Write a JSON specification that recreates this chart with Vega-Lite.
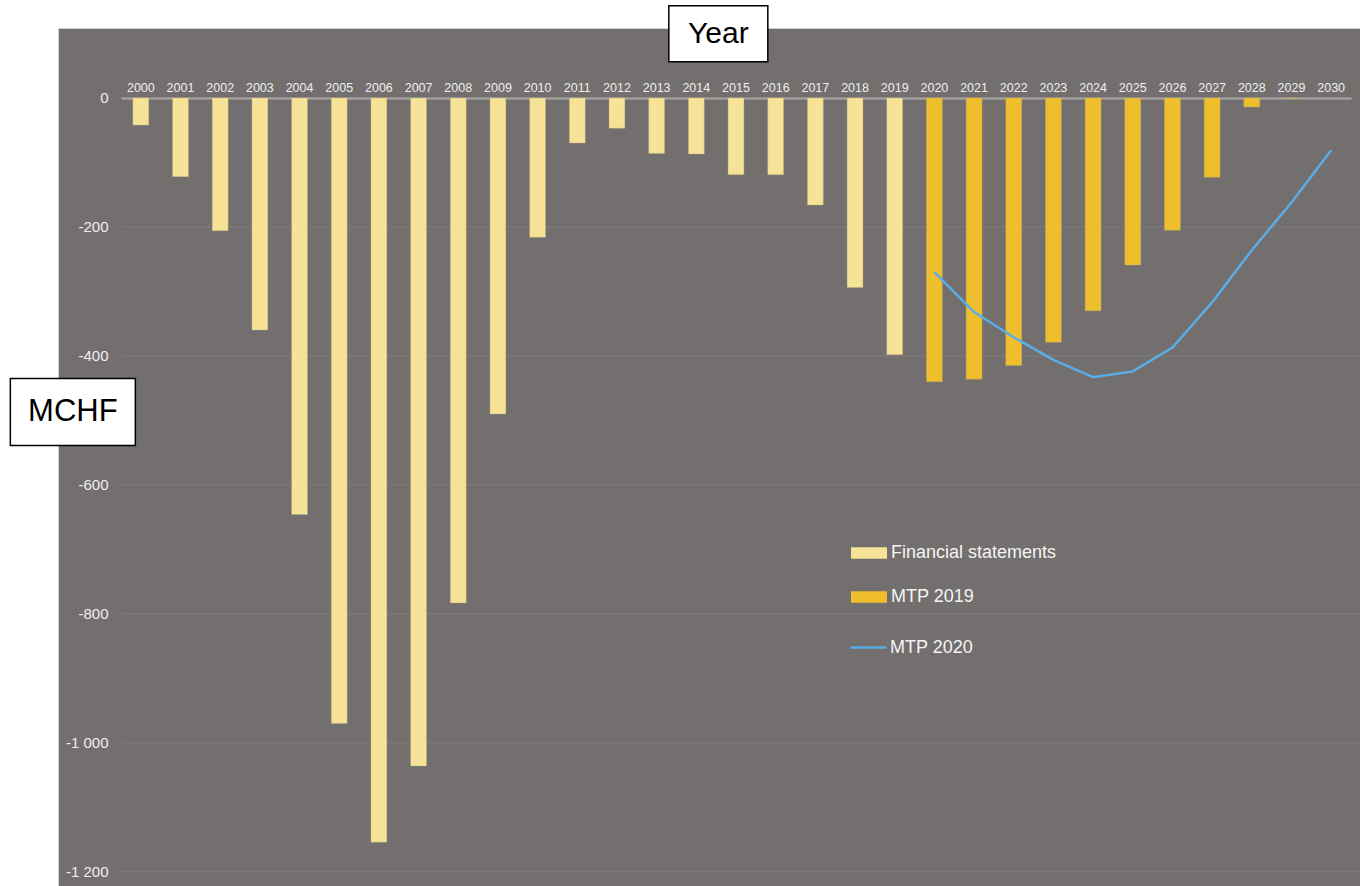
{
  "$schema": "https://vega.github.io/schema/vega-lite/v6.json",
  "width": 1302,
  "height": 858,
  "autosize": {"type": "none"},
  "padding": {"left": 58, "top": 28, "right": 0, "bottom": 0},
  "background": "white",
  "config": {
    "view": {"fill": "#736f6e", "stroke": "#cfcfcf", "strokeWidth": 1},
    "font": "Liberation Sans"
  },
  "datasets": {
    "bars": [
      {"year": "2000", "value": -42, "series": "Financial statements"},
      {"year": "2001", "value": -122, "series": "Financial statements"},
      {"year": "2002", "value": -206, "series": "Financial statements"},
      {"year": "2003", "value": -360, "series": "Financial statements"},
      {"year": "2004", "value": -646, "series": "Financial statements"},
      {"year": "2005", "value": -970, "series": "Financial statements"},
      {"year": "2006", "value": -1154, "series": "Financial statements"},
      {"year": "2007", "value": -1036, "series": "Financial statements"},
      {"year": "2008", "value": -783, "series": "Financial statements"},
      {"year": "2009", "value": -490, "series": "Financial statements"},
      {"year": "2010", "value": -216, "series": "Financial statements"},
      {"year": "2011", "value": -70, "series": "Financial statements"},
      {"year": "2012", "value": -47, "series": "Financial statements"},
      {"year": "2013", "value": -86, "series": "Financial statements"},
      {"year": "2014", "value": -87, "series": "Financial statements"},
      {"year": "2015", "value": -119, "series": "Financial statements"},
      {"year": "2016", "value": -119, "series": "Financial statements"},
      {"year": "2017", "value": -166, "series": "Financial statements"},
      {"year": "2018", "value": -294, "series": "Financial statements"},
      {"year": "2019", "value": -398, "series": "Financial statements"},
      {"year": "2020", "value": -440, "series": "MTP 2019"},
      {"year": "2021", "value": -436, "series": "MTP 2019"},
      {"year": "2022", "value": -415, "series": "MTP 2019"},
      {"year": "2023", "value": -379, "series": "MTP 2019"},
      {"year": "2024", "value": -330, "series": "MTP 2019"},
      {"year": "2025", "value": -259, "series": "MTP 2019"},
      {"year": "2026", "value": -205, "series": "MTP 2019"},
      {"year": "2027", "value": -123, "series": "MTP 2019"},
      {"year": "2028", "value": -14, "series": "MTP 2019"},
      {"year": "2029", "value": -1, "series": "MTP 2019"}
    ],
    "line": [
      {"year": "2020", "value": -270, "series": "MTP 2020"},
      {"year": "2021", "value": -332, "series": "MTP 2020"},
      {"year": "2022", "value": -371, "series": "MTP 2020"},
      {"year": "2023", "value": -406, "series": "MTP 2020"},
      {"year": "2024", "value": -433, "series": "MTP 2020"},
      {"year": "2025", "value": -424, "series": "MTP 2020"},
      {"year": "2026", "value": -387, "series": "MTP 2020"},
      {"year": "2027", "value": -317, "series": "MTP 2020"},
      {"year": "2028", "value": -236, "series": "MTP 2020"},
      {"year": "2029", "value": -162, "series": "MTP 2020"},
      {"year": "2030", "value": -81, "series": "MTP 2020"}
    ],
    "grid": [
      {"v": -1200}, {"v": -1000}, {"v": -800}, {"v": -600}, {"v": -400}, {"v": -200}
    ],
    "one": [{"k": 1}]
  },
  "layer": [
    {
      "data": {"name": "grid"},
      "mark": {"type": "rule", "color": "#837e7d", "strokeWidth": 1, "xOffset": -19, "x2Offset": 29},
      "encoding": {
        "y": {"field": "v", "type": "quantitative"},
        "x": {"datum": "2000", "type": "ordinal"},
        "x2": {"datum": "2030"}
      }
    },
    {
      "data": {"name": "bars"},
      "mark": {"type": "bar", "stroke": "#b9aa7a", "strokeWidth": 0.5, "strokeOpacity": 0.8},
      "encoding": {
        "x": {
          "field": "year",
          "type": "ordinal",
          "scale": {
            "domain": ["2000","2001","2002","2003","2004","2005","2006","2007","2008","2009","2010","2011","2012","2013","2014","2015","2016","2017","2018","2019","2020","2021","2022","2023","2024","2025","2026","2027","2028","2029","2030"],
            "range": [63, 1293],
            "paddingInner": 0.6,
            "paddingOuter": 0.3
          },
          "axis": {
            "orient": "top",
            "offset": -70,
            "title": null,
            "labelAngle": 0,
            "labelAlign": "center",
            "labelBaseline": "alphabetic",
            "labelFontSize": 12.5,
            "labelColor": "#eeeeee",
            "labelPadding": 7,
            "ticks": false,
            "grid": false,
            "domainColor": "#aba7a5",
            "domainWidth": 2
          }
        },
        "y": {
          "field": "value",
          "type": "quantitative",
          "scale": {"domain": [-1222, 108.5], "nice": false, "zero": false},
          "axis": {
            "orient": "left",
            "offset": -58,
            "title": null,
            "values": [-1200, -1000, -800, -600, -400, -200, 0],
            "labelExpr": "datum.value <= -1000 ? '-' + floor(-datum.value/1000) + ' ' + format(-datum.value % 1000, '03d') : '' + datum.value",
            "labelFontSize": 15,
            "labelColor": "#eeeeee",
            "labelPadding": 8,
            "ticks": false,
            "domain": false,
            "grid": false
          }
        },
        "y2": {"datum": 0},
        "color": {
          "field": "series",
          "type": "nominal",
          "scale": {"domain": ["Financial statements", "MTP 2019"], "range": ["#f6e397", "#efbe2c"]},
          "legend": {
            "orient": "none",
            "legendX": 793,
            "legendY": 507,
            "title": null,
            "padding": 0,
            "symbolType": "M-1,-0.32H1V0.32H-1Z",
            "symbolSize": 1296,
            "symbolStrokeWidth": 0,
            "labelFontSize": 18,
            "labelColor": "#f4f4f4",
            "labelOffset": 4,
            "labelLimit": 400,
            "rowPadding": 17
          }
        }
      }
    },
    {
      "data": {"name": "line"},
      "mark": {"type": "line", "strokeWidth": 2.5},
      "encoding": {
        "x": {"field": "year", "type": "ordinal"},
        "y": {"field": "value", "type": "quantitative"},
        "stroke": {
          "field": "series",
          "type": "nominal",
          "scale": {"domain": ["MTP 2020"], "range": ["#5aaee8"]},
          "legend": {
            "orient": "none",
            "legendX": 791,
            "legendY": 600,
            "title": null,
            "padding": 0,
            "symbolType": "stroke",
            "symbolSize": 1296,
            "symbolStrokeWidth": 2.5,
            "labelFontSize": 18,
            "labelColor": "#f4f4f4",
            "labelOffset": 2,
            "labelLimit": 400
          }
        }
      }
    },
    {
      "data": {"name": "one"},
      "mark": {"type": "point", "shape": "M-1,-0.566H1V0.566H-1Z", "size": 9801, "filled": true, "fill": "white", "stroke": "black", "strokeWidth": 1.5, "opacity": 1, "xOffset": 22},
      "encoding": {
        "x": {"datum": "2014", "type": "ordinal"},
        "y": {"datum": 99.5, "type": "quantitative"}
      }
    },
    {
      "data": {"name": "one"},
      "mark": {"type": "text", "text": "Year", "fontSize": 30, "color": "black", "align": "center", "baseline": "middle", "xOffset": 22},
      "encoding": {
        "x": {"datum": "2014", "type": "ordinal"},
        "y": {"datum": 99.5, "type": "quantitative"}
      }
    },
    {
      "data": {"name": "one"},
      "mark": {"type": "point", "shape": "M-1,-0.536H1V0.536H-1Z", "size": 15625, "filled": true, "fill": "white", "stroke": "black", "strokeWidth": 1.5, "opacity": 1, "xOffset": -68},
      "encoding": {
        "x": {"datum": "2000", "type": "ordinal"},
        "y": {"datum": -487, "type": "quantitative"}
      }
    },
    {
      "data": {"name": "one"},
      "mark": {"type": "text", "text": "MCHF", "fontSize": 31, "color": "black", "align": "center", "baseline": "middle", "xOffset": -68},
      "encoding": {
        "x": {"datum": "2000", "type": "ordinal"},
        "y": {"datum": -487, "type": "quantitative"}
      }
    }
  ]
}
